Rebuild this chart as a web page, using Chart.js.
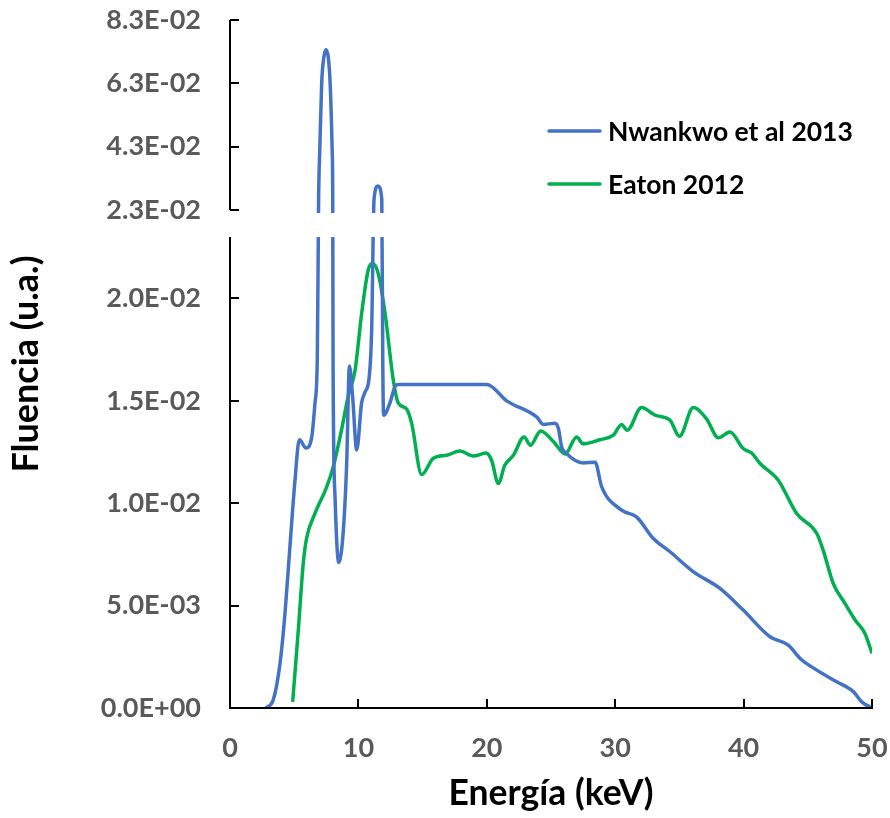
<!DOCTYPE html>
<html>
<head>
<meta charset="utf-8">
<script src="https://cdn.jsdelivr.net/npm/chart.js@4.4.0/dist/chart.umd.min.js"></script>
<style>
html,body{margin:0;padding:0;background:#fff;}
#wrap{width:890px;height:818px;position:relative;}
</style>
</head>
<body>
<div id="wrap"><canvas id="c" width="890" height="818"></canvas></div>
<script>
// ---- data ----
const nwankwoLabel = 'Nwankwo et al 2013';
const nwankwoEnergy = [2.8,3.37,3.9,4.28,4.67,5.06,5.4,5.92,6.36,6.62,6.8,6.9,7.0,7.14,7.3,7.48,7.66,7.8,7.95,8.0,8.03,8.18,8.47,8.83,9.09,9.3,9.55,9.87,10.25,10.5,10.85,11.03,11.22,11.52,11.82,11.9,11.96,12.46,12.85,13.1,20,21.55,23.9,24.4,25.3,25.57,25.83,26.2,27.5,28.43,28.95,30.5,31.66,32.97,34.27,36.1,38.16,39.97,42.05,43.48,44.4,45.7,47.25,48.55,49.2,50];
const nwankwoFluence = [0,0.0004,0.0022,0.0046,0.0079,0.0111,0.0131,0.0127,0.0132,0.0149,0.0171,0.026,0.043,0.063,0.071,0.0736,0.071,0.063,0.043,0.028,0.0165,0.0103,0.0071,0.0087,0.0120,0.0167,0.0152,0.0126,0.0149,0.0154,0.0162,0.0184,0.0265,0.0306,0.0265,0.0168,0.0143,0.0149,0.0157,0.0158,0.0158,0.0150,0.0142,0.01385,0.0139,0.01366,0.01275,0.01243,0.01197,0.0120,0.0108,0.00966,0.00933,0.00828,0.00763,0.00665,0.00584,0.00478,0.00348,0.00307,0.00242,0.00185,0.00128,0.0008,0.0003,0];

const eatonLabel = 'Eaton 2012';
const eatonEnergy = [4.88,5.32,5.71,5.97,6.62,7.53,8.05,8.68,9.2,9.74,10.26,10.77,11.1,11.55,12.07,12.72,13.1,13.76,14.15,14.93,15.84,16.87,17.9,18.95,19.94,20.37,20.9,21.4,22.07,22.9,23.4,24.2,25.2,26.1,27.0,27.5,28.8,29.85,30.5,30.93,32.05,33.1,34.27,35.0,36.08,37.1,38.03,38.94,39.97,40.63,41.28,42.7,44.13,45.7,46.2,46.98,47.9,48.68,49.45,50];
const eatonFluence = [0.0003,0.0038,0.0071,0.0083,0.0095,0.0108,0.0118,0.01356,0.0152,0.0165,0.0193,0.0214,0.0217,0.0212,0.0193,0.0160,0.0149,0.0146,0.0139,0.0114,0.0122,0.01234,0.01255,0.0123,0.01245,0.0121,0.01096,0.01185,0.01234,0.01323,0.01283,0.01353,0.0130,0.0124,0.01323,0.0129,0.0131,0.01332,0.01385,0.01356,0.01467,0.0143,0.01405,0.01327,0.01467,0.01413,0.0132,0.01348,0.01267,0.01245,0.01194,0.01112,0.0095,0.00852,0.0077,0.00608,0.0051,0.0043,0.00364,0.00267];

const xTickValues = [0,10,20,30,40,50];
const yTickValues = [0,0.005,0.010,0.015,0.020,0.023,0.043,0.063,0.083];
const yBreak = 0.023;   // lower panel: 0 .. 0.023, upper panel: 0.023 .. 0.083
const yMax = 0.083;
const xTitle = 'Energía (keV)';
const yTitle = 'Fluencia (u.a.)';

// ---- layout constants ----
const TARGET = { left: 230, top: 20, right: 872, bottom: 708 };
const LOW_FRAC = 471/688;   // share of plot height for lower panel
const UP_FRAC  = 190/688;   // share for upper panel
const FONT = "Lato, 'Open Sans', sans-serif";
const BLUE = '#4472C4', GREEN = '#00B050', GREY = '#595959';

// ---- broken y scale ----
class BrokenScale extends Chart.LinearScale {
  _panels() {
    const t = this.top, b = this.bottom, h = b - t;
    return { t, b, lowTop: b - h*LOW_FRAC, upBot: t + h*UP_FRAC };
  }
  getPixelForValue(value) {
    if (value === null || value === undefined || isNaN(value)) return NaN;
    const p = this._panels();
    if (value < yBreak) return p.b - (value / yBreak) * (p.b - p.lowTop);
    return p.upBot - ((value - yBreak) / (yMax - yBreak)) * (p.upBot - p.t);
  }
  getValueForPixel(pixel) {
    const p = this._panels();
    if (pixel >= p.lowTop) return (p.b - pixel) / (p.b - p.lowTop) * yBreak;
    if (pixel <= p.upBot) return yBreak + (p.upBot - pixel) / (p.upBot - p.t) * (yMax - yBreak);
    return yBreak;
  }
}
BrokenScale.id = 'broken';
BrokenScale.defaults = Chart.LinearScale.defaults;
Chart.register(BrokenScale);

function fmtSci(v) {
  if (v === 0) return '0.0E+00';
  let e = Math.floor(Math.log10(v) + 1e-9);
  let m = v / Math.pow(10, e);
  if (Math.round(m*10)/10 >= 10) { m /= 10; e += 1; }
  const sign = e < 0 ? '-' : '+';
  const ae = Math.abs(e);
  return m.toFixed(1) + 'E' + sign + (ae < 10 ? '0' + ae : ae);
}

function toPoints(xs, ys) { return xs.map((x, i) => ({ x, y: ys[i] })); }
function zeroPad(s) { s.paddingTop = 0; s.paddingBottom = 0; s.paddingLeft = 0; s.paddingRight = 0; }

// clip datasets to the two panels (gap is left empty)
const panelClip = {
  id: 'panelClip',
  beforeDatasetsDraw(chart) {
    const ctx = chart.ctx, ca = chart.chartArea, y = chart.scales.y;
    const lowTop = y.getPixelForValue(yBreak - 1e-9);
    const upBot = y.getPixelForValue(yBreak);
    ctx.save();
    ctx.beginPath();
    ctx.rect(ca.left, ca.top - 10, ca.right - ca.left + 5, upBot - ca.top + 13);
    ctx.rect(ca.left, lowTop, ca.right - ca.left + 5, ca.bottom - lowTop + 3);
    ctx.clip();
  },
  afterDatasetsDraw(chart) { chart.ctx.restore(); }
};

// axis lines, inward tick marks and in-plot legend
const axesAndLegend = {
  id: 'axesAndLegend',
  afterDraw(chart) {
    const ctx = chart.ctx, ca = chart.chartArea;
    const ys = chart.scales.y, xs = chart.scales.x;
    const lowTop = ys.getPixelForValue(yBreak - 1e-9);
    const upBot = ys.getPixelForValue(yBreak);
    ctx.save();
    ctx.strokeStyle = '#000';
    ctx.lineWidth = 2;
    ctx.lineCap = 'butt';
    ctx.beginPath();
    ctx.moveTo(ca.left, ys.getPixelForValue(yMax)); ctx.lineTo(ca.left, upBot);
    ctx.moveTo(ca.left, lowTop); ctx.lineTo(ca.left, ca.bottom + 1);
    ctx.moveTo(ca.left - 1, ca.bottom); ctx.lineTo(ca.right + 1, ca.bottom);
    yTickValues.forEach(v => {
      if (v === 0) return;
      const py = Math.round(ys.getPixelForValue(v));
      ctx.moveTo(ca.left, py); ctx.lineTo(ca.left + 9, py);
    });
    xTickValues.forEach(v => {
      if (v === 0) return;
      const px = Math.round(xs.getPixelForValue(v));
      ctx.moveTo(px, ca.bottom); ctx.lineTo(px, ca.bottom - 9);
    });
    ctx.stroke();

    // legend
    const items = chart.data.datasets;
    const lx = ca.left + 319, ly0 = ca.top + 111, dy = 53;
    ctx.font = 'bold 26.5px ' + FONT;
    ctx.textBaseline = 'middle';
    ctx.textAlign = 'left';
    items.forEach((ds, i) => {
      const yy = ly0 + i*dy;
      ctx.strokeStyle = ds.borderColor;
      ctx.lineWidth = 3.5;
      ctx.lineCap = 'round';
      ctx.beginPath(); ctx.moveTo(lx, yy); ctx.lineTo(lx + 51, yy); ctx.stroke();
      ctx.fillStyle = '#000';
      ctx.fillText(ds.label, lx + 59, yy + 1);
    });
    ctx.restore();
  }
};

const chart = new Chart(document.getElementById('c'), {
  type: 'line',
  data: {
    datasets: [
      { label: nwankwoLabel, data: toPoints(nwankwoEnergy, nwankwoFluence), borderColor: BLUE, backgroundColor: BLUE,
        borderWidth: 3.5, pointRadius: 0, cubicInterpolationMode: 'monotone', fill: false },
      { label: eatonLabel, data: toPoints(eatonEnergy, eatonFluence), borderColor: GREEN, backgroundColor: GREEN,
        borderWidth: 3.5, pointRadius: 0, cubicInterpolationMode: 'monotone', fill: false }
    ]
  },
  options: {
    responsive: false,
    animation: false,
    events: [],
    layout: { padding: { left: 0, right: 18, top: 20, bottom: 0 } },
    plugins: { legend: { display: false }, tooltip: { enabled: false } },
    scales: {
      x: {
        type: 'linear', min: 0, max: 50,
        grid: { display: false }, border: { display: false },
        afterBuildTicks: s => { s.ticks = xTickValues.map(v => ({ value: v })); },
        afterFit: s => { s.height = 110; zeroPad(s); },
        ticks: { color: GREY, font: { family: FONT, size: 27, weight: 'bold' }, padding: 16, maxRotation: 0, autoSkip: false },
        title: { display: true, text: xTitle, color: '#000', font: { family: FONT, size: 35.5, weight: 'bold' }, padding: { top: 0, bottom: 3 } }
      },
      y: {
        type: 'broken', min: 0, max: yMax,
        grid: { display: false }, border: { display: false },
        afterBuildTicks: s => { s.ticks = yTickValues.map(v => ({ value: v })); },
        afterFit: s => { s.width = 230; zeroPad(s); },
        ticks: { color: GREY, font: { family: FONT, size: 27, weight: 'bold' }, padding: 21, autoSkip: false,
                 callback: v => fmtSci(v) },
        title: { display: true, text: yTitle, color: '#000', font: { family: FONT, size: 36, weight: 'bold' }, padding: { top: 5, bottom: 0 } }
      }
    }
  },
  plugins: [panelClip, axesAndLegend]
});

// nudge layout padding so the plot area lands where the reference has it
for (let i = 0; i < 4; i++) {
  const ca = chart.chartArea, p = chart.options.layout.padding;
  const dTop = TARGET.top - ca.top, dRight = ca.right - TARGET.right,
        dBottom = ca.bottom - TARGET.bottom, dLeft = TARGET.left - ca.left;
  if (Math.abs(dTop) < 0.5 && Math.abs(dRight) < 0.5 && Math.abs(dBottom) < 0.5 && Math.abs(dLeft) < 0.5) break;
  p.top += dTop; p.right += dRight; p.bottom += dBottom; p.left += dLeft;
  chart.update();
}
</script>
</body>
</html>
